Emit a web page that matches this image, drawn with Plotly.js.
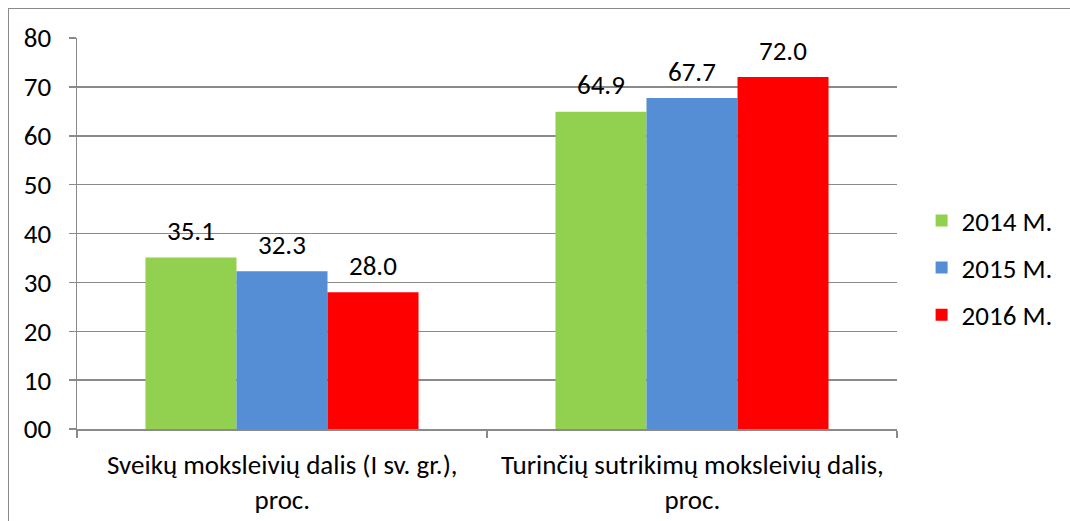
<!DOCTYPE html>
<html>
<head>
<meta charset="utf-8">
<script src="https://cdn.plot.ly/plotly-3.0.1.min.js"></script>
<style>
html,body{margin:0;padding:0;background:#fff;}
#wrap{position:relative;width:1070px;height:521px;overflow:hidden;}
#frame{position:absolute;left:8px;top:8px;width:1100px;height:600px;border-left:1.5px solid #8a8a8a;border-top:1.5px solid #8a8a8a;pointer-events:none;z-index:5;}
#chart{position:absolute;left:0;top:0;width:1070px;height:521px;}
</style>
</head>
<body>
<div id="wrap"><div id="chart"></div><div id="frame"></div></div>
<script>
const categories = ["Sveikų moksleivių dalis (I sv. gr.),<br>proc.", "Turinčių sutrikimų moksleivių dalis,<br>proc."];
const seriesNames = ["2014 M.", "2015 M.", "2016 M."];
const values2014 = [35.1, 64.9];
const values2015 = [32.3, 67.7];
const values2016 = [28.0, 72.0];
const colors = ["#92D050", "#558ED5", "#FF0000"];
const yTickVals = [0, 10, 20, 30, 40, 50, 60, 70, 80];
const yTickText = ["00", "10", "20", "30", "40", "50", "60", "70", "80"];

const FONT = "Carlito, Calibri, 'Liberation Sans', Arial, sans-serif";
const FS = 27;
const allValues = [values2014, values2015, values2016];
const catKeys = ["c0", "c1"];

const traces = allValues.map((vals, i) => ({
  type: "bar",
  name: seriesNames[i],
  x: catKeys,
  y: vals,
  marker: {color: colors[i], line: {width: 0}},
  legendgroup: "g" + i,
  hoverinfo: "none"
}));

const barW = 91;
const annotations = [];
allValues.forEach((vals, i) => {
  vals.forEach((v, j) => {
    annotations.push({
      x: catKeys[j], y: v, xref: "x", yref: "y",
      text: v.toFixed(1), showarrow: false,
      xshift: (i - 1) * barW, yshift: 27,
      font: {family: FONT, size: FS, color: "#000"}
    });
  });
});
// category labels (two-line, centred under each group)
categories.forEach((c, j) => {
  annotations.push({
    x: catKeys[j], y: 0, xref: "x", yref: "y",
    text: c, showarrow: false, align: "center",
    yshift: -53,
    font: {family: FONT, size: FS, color: "#000"}
  });
});

const layout = {
  width: 1070, height: 521,
  margin: {l: 77, r: 173, t: 38, b: 92},
  paper_bgcolor: "#fff", plot_bgcolor: "#fff",
  barmode: "group",
  bargap: 0.334, bargroupgap: 0,
  font: {family: FONT, size: FS, color: "#000"},
  showlegend: true,
  legend: {
    x: 1.03, xanchor: "left", y: 0.412, yanchor: "middle",
    font: {family: FONT, size: FS, color: "#000"},
    traceorder: "grouped", tracegroupgap: 9,
    bgcolor: "rgba(0,0,0,0)"
  },
  xaxis: {
    type: "category",
    tickvals: catKeys, ticktext: categories,
    showticklabels: false,
    tickson: "boundaries",
    ticks: "outside", ticklen: 7, tickcolor: "#8a8a8a", tickwidth: 1.5,
    showline: true, linecolor: "#8a8a8a", linewidth: 1.5,
    showgrid: false, zeroline: false
  },
  yaxis: {
    range: [0, 80],
    tickvals: yTickVals, ticktext: yTickText,
    ticks: "outside", ticklen: 7, tickcolor: "#8a8a8a", tickwidth: 1.5,
    showline: true, linecolor: "#8a8a8a", linewidth: 1.5,
    showgrid: true, gridcolor: "#8a8a8a", gridwidth: 1.5,
    zeroline: false,
    ticklabelstandoff: 12,
    tickfont: {family: FONT, size: FS, color: "#000"}
  },
  annotations: annotations
};

Plotly.newPlot("chart", traces, layout, {displayModeBar: false, staticPlot: true});
</script>
</body>
</html>
